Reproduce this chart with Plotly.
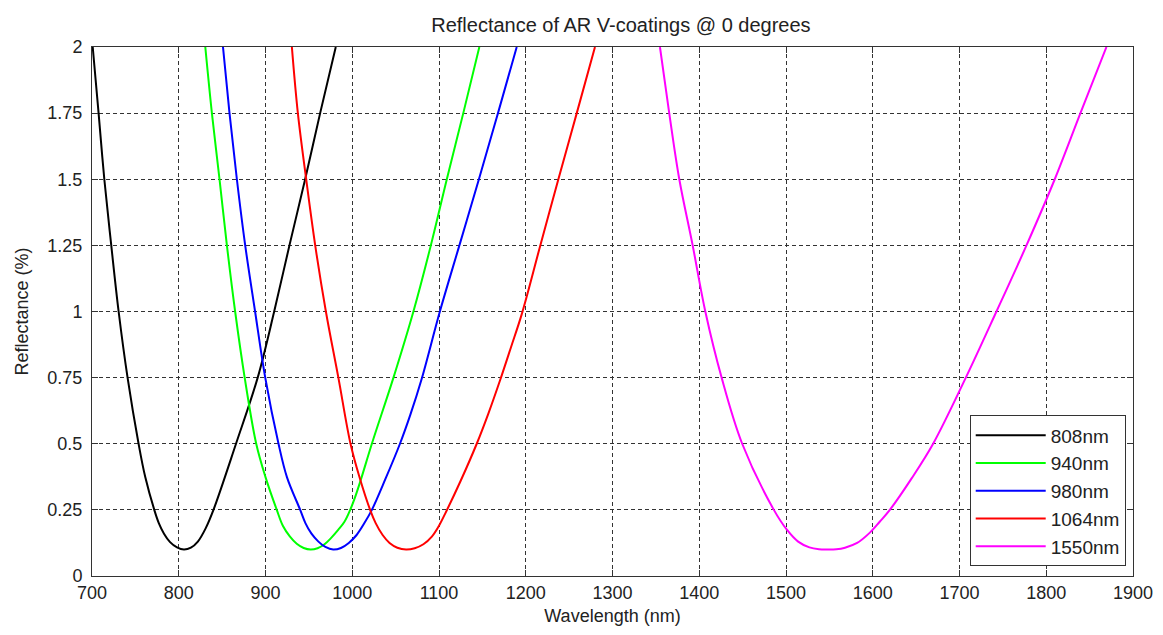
import plotly.graph_objects as go

# wavelength (nm) / reflectance (%)
wl_808 = [700, 707.6, 714.2, 722.2, 730.7, 741, 753.7, 761.4, 771.8, 777, 783, 790, 798, 806,
          814, 822, 831, 840, 866, 891, 910, 927.6, 945.7, 963, 981]
r_808 = [2.03, 1.75, 1.5, 1.25, 1.0, 0.75, 0.5, 0.374, 0.25, 0.20, 0.16, 0.128, 0.108, 0.10,
         0.107, 0.13, 0.18, 0.25, 0.5, 0.75, 1.0, 1.25, 1.5, 1.75, 2.0]

wl_940 = [830.6, 838.2, 847, 855.5, 865, 876, 889.3, 900, 913, 920, 928, 936, 944, 952,
          960, 968, 976, 984, 991, 997.6, 1004, 1010, 1022.6, 1047.5, 1070.5, 1090.6, 1109, 1128, 1146.5]
r_940 = [2.0, 1.75, 1.5, 1.25, 1.0, 0.75, 0.5, 0.374, 0.25, 0.19, 0.15, 0.122, 0.106, 0.10,
         0.105, 0.12, 0.145, 0.175, 0.205, 0.25, 0.305, 0.365, 0.5, 0.75, 1.0, 1.25, 1.5, 1.75, 2.0]

wl_980 = [851, 858.5, 867, 876.6, 888, 899.7, 915, 924.7, 940, 946, 953, 961, 969, 978,
          987, 996, 1005, 1014, 1022.6, 1038, 1055, 1067, 1080, 1101, 1123.5, 1146, 1168, 1189.6]
r_980 = [2.0, 1.75, 1.5, 1.25, 1.0, 0.75, 0.5, 0.374, 0.25, 0.20, 0.16, 0.13, 0.11, 0.10,
         0.106, 0.125, 0.155, 0.20, 0.25, 0.365, 0.5, 0.61, 0.745, 1.0, 1.25, 1.5, 1.75, 2.0]

wl_1064 = [930.4, 937.3, 946.9, 957.3, 969.6, 984, 998, 1008.3, 1020.6, 1027, 1035, 1043, 1052, 1062,
           1072, 1082, 1092, 1100, 1107, 1125, 1143.5, 1157, 1170.4, 1183, 1195.4, 1216, 1237.6, 1258.8, 1279.8]
r_1064 = [2.0, 1.75, 1.5, 1.25, 1.0, 0.75, 0.5, 0.374, 0.25, 0.20, 0.155, 0.125, 0.107, 0.10,
          0.105, 0.12, 0.15, 0.19, 0.235, 0.36, 0.5, 0.615, 0.74, 0.865, 0.99, 1.24, 1.5, 1.75, 2.0]

wl_1550 = [1354.7, 1365.4, 1377, 1392.4, 1407, 1425.8, 1449.5, 1486, 1501, 1514, 1527, 1538, 1548,
           1558, 1568, 1582, 1597, 1608, 1619.7, 1645, 1669.6, 1707.3, 1742.6, 1777.2, 1809.8, 1839.4, 1869.4]
r_1550 = [2.0, 1.75, 1.5, 1.25, 1.0, 0.75, 0.5, 0.25, 0.175, 0.13, 0.108, 0.101, 0.10,
          0.101, 0.107, 0.125, 0.165, 0.205, 0.25, 0.37, 0.5, 0.75, 1.0, 1.25, 1.5, 1.75, 2.0]

series = [
    ("808nm", wl_808, r_808, "#000000"),
    ("940nm", wl_940, r_940, "#00ff00"),
    ("980nm", wl_980, r_980, "#0000ff"),
    ("1064nm", wl_1064, r_1064, "#ff0000"),
    ("1550nm", wl_1550, r_1550, "#ff00ff"),
]

x_ticks = [700, 800, 900, 1000, 1100, 1200, 1300, 1400, 1500, 1600, 1700, 1800, 1900]
y_ticks = [0, 0.25, 0.5, 0.75, 1, 1.25, 1.5, 1.75, 2]
y_labels = ["0", "0.25", "0.5", "0.75", "1", "1.25", "1.5", "1.75", "2"]

FONT = "Liberation Sans, Arial"

fig = go.Figure()
for name, wl, r, color in series:
    fig.add_trace(go.Scatter(
        x=wl, y=r, name=name, mode="lines", legendgroup=name,
        line=dict(color=color, width=2, shape="spline", smoothing=1.0),
    ))

axis_style = dict(
    showline=True, linecolor="#333333", linewidth=1, mirror="ticks",
    ticks="inside", ticklen=6, tickcolor="#333333",
    showgrid=True, gridcolor="#333333", gridwidth=1, griddash="4px,3px",
    zeroline=False, automargin=False,
    tickfont=dict(family=FONT, size=18, color="#222222"),
)

fig.update_xaxes(
    range=[700, 1900], tickvals=x_ticks,
    title=dict(text="Wavelength (nm)", font=dict(family=FONT, size=18, color="#222222"), standoff=7),
    **axis_style
)
fig.update_yaxes(
    range=[0, 2], tickvals=y_ticks, ticktext=y_labels, ticklabelstandoff=5,
    title=dict(text="Reflectance (%)", font=dict(family=FONT, size=18, color="#222222"), standoff=14),
    **axis_style
)

# the page puts the figure 8px in from the top-left corner
fig.update_layout(
    width=1163, height=635,
    margin=dict(l=84, r=38, t=39, b=67),
    paper_bgcolor="white", plot_bgcolor="white",
    title=dict(text="Reflectance of AR V-coatings @ 0 degrees",
               x=0.527, xanchor="center", y=1 - 17 / 635, yanchor="middle",
               font=dict(family=FONT, size=20, color="#222222")),
    legend=dict(
        x=0.993, y=0.018, xanchor="right", yanchor="bottom",
        bgcolor="white", bordercolor="#333333", borderwidth=1,
        font=dict(family=FONT, size=19, color="#222222"),
        tracegroupgap=0, itemwidth=70,
    ),
    showlegend=True,
)

fig.write_html("out.html")
